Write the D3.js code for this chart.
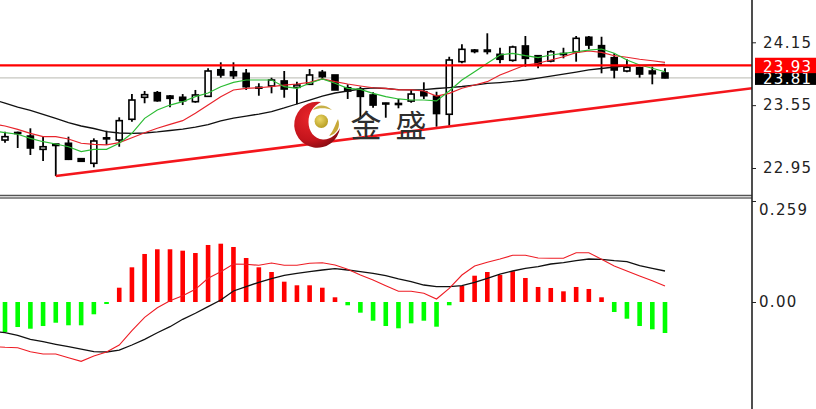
<!DOCTYPE html>
<html><head><meta charset="utf-8">
<script src="https://cdn.jsdelivr.net/npm/d3@7/dist/d3.min.js"></script>
<style>html,body{margin:0;padding:0;background:#fff;overflow:hidden}svg{display:block}</style>
</head><body><svg id="c" width="816" height="409"></svg>
<script>
// candles: index 0..52
const opens=[23.217,23.289,23.255,23.128,23.179,23.186,23.039,22.995,23.238,23.217,23.415,23.625,23.669,23.637,23.625,23.583,23.634,23.888,23.869,23.854,23.721,23.733,23.781,23.720,23.749,23.864,23.838,23.716,23.701,23.647,23.570,23.566,23.589,23.678,23.637,23.463,23.965,24.076,24.076,24.035,23.978,24.115,24.022,23.971,24.043,24.060,24.198,24.118,24.003,23.876,23.908,23.876,23.857];
const highs=[23.297,23.297,23.329,23.255,23.179,23.249,23.045,23.233,23.306,23.434,23.656,23.685,23.685,23.647,23.656,23.695,23.902,23.959,23.959,23.895,23.759,23.812,23.876,23.774,23.895,23.886,23.838,23.749,23.726,23.673,23.573,23.609,23.695,23.768,23.678,24.012,24.131,24.086,24.236,24.098,24.118,24.210,24.022,24.076,24.098,24.210,24.210,24.203,24.045,23.988,23.917,23.917,23.902];
const lows=[23.192,23.141,23.074,23.017,22.873,23.026,23.007,22.957,23.170,23.153,23.392,23.568,23.583,23.529,23.551,23.573,23.628,23.812,23.800,23.695,23.640,23.663,23.621,23.558,23.742,23.790,23.695,23.609,23.427,23.526,23.430,23.520,23.573,23.609,23.344,23.354,23.950,24.045,24.035,23.950,23.965,23.917,23.902,23.959,23.997,23.965,24.086,23.854,23.806,23.864,23.812,23.749,23.806];
const closes=[23.249,23.279,23.141,23.153,23.165,23.033,23.014,23.208,23.228,23.402,23.599,23.650,23.592,23.615,23.592,23.647,23.876,23.838,23.831,23.726,23.712,23.790,23.704,23.742,23.838,23.822,23.695,23.685,23.634,23.551,23.561,23.556,23.656,23.640,23.470,23.981,24.083,24.062,24.062,23.988,24.105,23.997,23.943,24.060,24.033,24.188,24.124,24.012,23.886,23.911,23.847,23.850,23.810];
// moving averages: index -1..52
const maFast=[23.308,23.287,23.272,23.233,23.201,23.179,23.153,23.106,23.128,23.128,23.186,23.281,23.424,23.504,23.551,23.583,23.631,23.666,23.726,23.768,23.790,23.790,23.790,23.726,23.711,23.759,23.800,23.759,23.711,23.701,23.663,23.631,23.609,23.599,23.599,23.590,23.685,23.790,23.869,23.950,24.029,24.045,24.022,24.003,24.029,24.045,24.060,24.076,24.086,24.045,23.981,23.933,23.902,23.869];
const maMid=[23.370,23.351,23.319,23.281,23.249,23.249,23.227,23.186,23.176,23.170,23.192,23.239,23.287,23.329,23.367,23.402,23.472,23.551,23.631,23.695,23.711,23.716,23.726,23.742,23.752,23.768,23.800,23.774,23.752,23.733,23.716,23.711,23.695,23.695,23.685,23.637,23.663,23.711,23.742,23.774,23.838,23.886,23.933,23.950,23.981,24.012,24.051,24.067,24.054,24.022,24.007,23.988,23.974,23.959];
const maSlow=[23.604,23.570,23.532,23.499,23.461,23.423,23.384,23.351,23.327,23.298,23.284,23.281,23.284,23.294,23.308,23.322,23.341,23.365,23.399,23.427,23.446,23.465,23.489,23.523,23.561,23.599,23.637,23.666,23.685,23.704,23.714,23.709,23.699,23.695,23.699,23.709,23.718,23.728,23.742,23.757,23.766,23.776,23.790,23.809,23.828,23.847,23.866,23.886,23.900,23.914,23.924,23.929,23.933,23.938];
// levels and trend line
const supportLevel=23.93, lastPrice=23.81;
const trendIdx=[4,58.87], trendPrice=[22.873,23.711];
const priceTicks=[24.15,23.55,22.95];
// MACD panel
const hist=[-.0747,-.0623,-.0665,-.0598,-.0516,-.0580,-.0580,-.0306,-.0050,.0356,.0864,.1196,.1313,.1313,.1278,.1220,.1420,.1452,.1370,.1096,.0864,.0747,.0506,.0416,.0416,.0356,.0117,-.0082,-.0266,-.0466,-.0598,-.0655,-.0531,-.0466,-.0615,-.0082,.0399,.0655,.0747,.0672,.0765,.0598,.0374,.0349,.0266,.0374,.0324,.0117,-.0249,-.0416,-.0598,-.0680,-.0772];
const macdBlack=[-.0722,-.0765,-.0829,-.0929,-.0989,-.1054,-.1113,-.1171,-.1238,-.1245,-.1196,-.1071,-.0929,-.0765,-.0615,-.0431,-.0281,-.0117,.0050,.0274,.0381,.0491,.0585,.0665,.0715,.0755,.0797,.0829,.0797,.0755,.0715,.0655,.0573,.0506,.0423,.0381,.0381,.0406,.0491,.0590,.0697,.0772,.0839,.0879,.0946,.0979,.1029,.1071,.1063,.1029,.1004,.0904,.0839,.0772];
const macdRed=[-.1108,-.1128,-.1138,-.1238,-.1295,-.1295,-.1387,-.1477,-.1345,-.1245,-.1071,-.0715,-.0381,-.0142,.0032,.0157,.0316,.0590,.0755,.0946,.0939,.0914,.0971,.0914,.0914,.0964,.0979,.0922,.0814,.0672,.0548,.0406,.0266,.0266,.0217,.0075,.0341,.0672,.0897,.0989,.1071,.1163,.1163,.1096,.1088,.1088,.1228,.1228,.1063,.0897,.0772,.0648,.0531,.0399];
const macdTicks=[0.259,0];

const svg=d3.select("#c");
const plotR=752;
const x=d3.scaleLinear().domain([0,52]).range([5,665]);
const yP=d3.scaleLinear().domain([24.15,22.95]).range([42.3,168]);
const yM=d3.scaleLinear().domain([0.259,0]).range([198,302]);
const defs=svg.append("defs");
defs.append("clipPath").attr("id","cm").append("rect").attr("x",0).attr("y",0).attr("width",plotR).attr("height",195);
defs.append("clipPath").attr("id","cs").append("rect").attr("x",0).attr("y",199).attr("width",plotR).attr("height",210);
const rg=defs.append("radialGradient").attr("id","lr").attr("cx","35%").attr("cy","35%").attr("r","75%");
rg.append("stop").attr("offset","0").attr("stop-color","#e8252a");
rg.append("stop").attr("offset","0.65").attr("stop-color","#c4141c");
rg.append("stop").attr("offset","1").attr("stop-color","#7d0a10");
const gg=defs.append("radialGradient").attr("id","lg").attr("cx","40%").attr("cy","35%").attr("r","70%");
gg.append("stop").attr("offset","0").attr("stop-color","#ecd868");
gg.append("stop").attr("offset","1").attr("stop-color","#b49a20");

const main=svg.append("g").attr("clip-path","url(#cm)");
main.append("line").attr("x1",0).attr("x2",plotR).attr("y1",yP(lastPrice)).attr("y2",yP(lastPrice)).attr("stroke","#b8b8b0").attr("stroke-width",1);

const idx=d3.range(opens.length);
main.selectAll("line.w").data(idx).join("line").attr("class","w")
 .attr("x1",i=>x(i)).attr("x2",i=>x(i)).attr("y1",i=>yP(highs[i])).attr("y2",i=>yP(lows[i]))
 .attr("stroke","#000").attr("stroke-width",1.8);
main.selectAll("rect.b").data(idx).join("rect").attr("class","b")
 .attr("x",i=>x(i)-3).attr("width",6)
 .attr("y",i=>yP(Math.max(opens[i],closes[i])))
 .attr("height",i=>Math.abs(yP(opens[i])-yP(closes[i])))
 .attr("fill",i=>closes[i]>=opens[i]?"#fff":"#000")
 .attr("stroke","#000").attr("stroke-width",1.6);

const lineM=d3.line().x((d,i)=>x(i-1)).y(d=>yP(d));
main.append("path").attr("d",lineM(maSlow)).attr("fill","none").attr("stroke","#111").attr("stroke-width",1.3);
main.append("path").attr("d",lineM(maMid)).attr("fill","none").attr("stroke","#e8242c").attr("stroke-width",1.2);
main.append("path").attr("d",lineM(maFast)).attr("fill","none").attr("stroke","#2cbc34").attr("stroke-width",1.2);

main.append("line").attr("x1",0).attr("x2",plotR).attr("y1",yP(supportLevel)).attr("y2",yP(supportLevel)).attr("stroke","#f00").attr("stroke-width",2.4);
main.append("line").attr("x1",x(trendIdx[0])).attr("x2",x(trendIdx[1])).attr("y1",yP(trendPrice[0])).attr("y2",yP(trendPrice[1])).attr("stroke","#f4161c").attr("stroke-width",2.6);

// logo
const logo=svg.append("g");
logo.append("path").attr("fill","url(#lr)")
 .attr("d","M321 102 A23 23 0 1 0 340 128 C337 134 330 140 323 139.5 C314 139 308.5 131 308.5 122 C308.5 113 313 106 321 102 Z");
logo.append("circle").attr("cx",321.3).attr("cy",121.3).attr("r",6.7).attr("fill","url(#lg)");
logo.append("path").attr("fill","#c8b048").attr("d","M313 110 C316 104.5 325 103.5 332 110 C326 107.5 319 107.5 313 110 Z");
logo.append("path").attr("fill","#c8a838").attr("d","M338 119 C341 127 337 134 329 136 C334 130 335 125 338 119 Z");
logo.selectAll("text").data(["金","盛"]).join("text").text(d=>d)
 .attr("x",(d,i)=>i?411:366).attr("y",137).attr("text-anchor","middle")
 .attr("font-family","'Noto Sans CJK SC'").attr("font-size",31).attr("fill","#2e2e2e");

// MACD panel
const sub=svg.append("g").attr("clip-path","url(#cs)");
sub.selectAll("rect.h").data(hist).join("rect").attr("class","h")
 .attr("x",(d,i)=>x(i)-2.3).attr("width",4.6)
 .attr("y",d=>Math.min(yM(d),yM(0))).attr("height",d=>Math.abs(yM(d)-yM(0)))
 .attr("fill",d=>d>=0?"#f00":"#0f0");
const lineS=d3.line().x((d,i)=>x(i-1)).y(d=>yM(d));
sub.append("path").attr("d",lineS(macdBlack)).attr("fill","none").attr("stroke","#111").attr("stroke-width",1.3);
sub.append("path").attr("d",lineS(macdRed)).attr("fill","none").attr("stroke","#ee1c24").attr("stroke-width",1.1);

// frame
svg.append("line").attr("x1",0).attr("x2",plotR).attr("y1",195.5).attr("y2",195.5).attr("stroke","#555").attr("stroke-width",1.5);
svg.append("line").attr("x1",0).attr("x2",plotR).attr("y1",198).attr("y2",198).attr("stroke","#222").attr("stroke-width",1.2);
svg.append("line").attr("x1",plotR).attr("x2",plotR).attr("y1",0).attr("y2",409).attr("stroke","#222").attr("stroke-width",1.6);

// axes
const font="'DejaVu Sans'", fs=15, ls="1.3px", tc="#222";
const fmtP=d3.format(".2f");
const axP=svg.append("g").attr("transform",`translate(${plotR},0)`)
 .call(d3.axisRight(yP).tickValues(priceTicks).tickFormat(fmtP).tickSize(4).tickPadding(7));
const axM=svg.append("g").attr("transform",`translate(${plotR},0)`)
 .call(d3.axisRight(yM).tickValues(macdTicks).tickFormat(d=>d?"0.259":"0.00").tickSize(4).tickPadding(3));
[axP,axM].forEach(a=>{a.select(".domain").remove();
 a.selectAll("line").attr("stroke",tc);
 a.selectAll("text").attr("font-family",font).attr("font-size",fs).attr("letter-spacing",ls).attr("fill",tc);});
axM.selectAll("g.tick").filter(d=>d>0).select("line").attr("transform","translate(0,3)");
axM.selectAll("g.tick").filter(d=>d>0).select("text").attr("dy","16.5px");

function tag(v,bg,top,bottom,dy){
 const y=yP(v);
 const g=svg.append("g");
 g.append("rect").attr("x",755).attr("width",61).attr("y",y+top).attr("height",bottom-top).attr("fill",bg);
 g.append("text").attr("x",763).attr("y",y+dy).text(fmtP(v)).attr("font-family",font).attr("font-size",fs).attr("letter-spacing",ls).attr("fill","#fff");
}
tag(lastPrice,"#000",-5.2,7,6.5);
tag(supportLevel,"#f00",-7.6,7.8,6.4);
</script></body></html>
